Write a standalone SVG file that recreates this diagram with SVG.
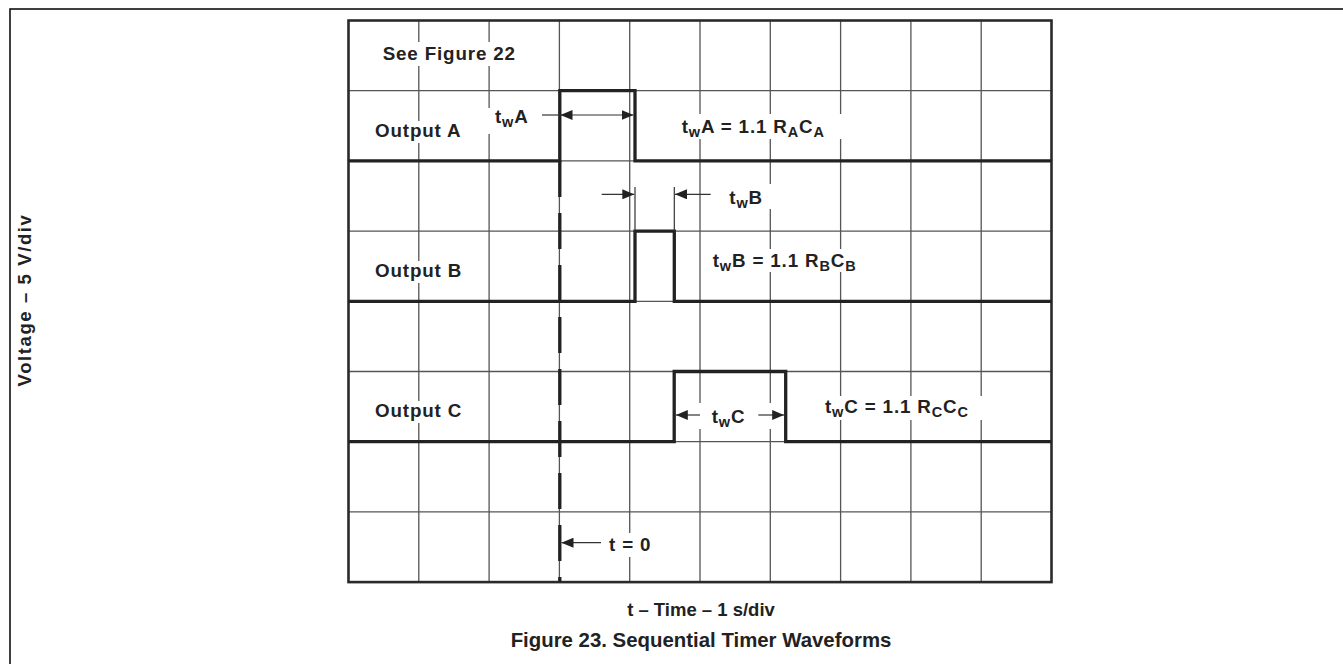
<svg xmlns="http://www.w3.org/2000/svg" width="1343" height="664" viewBox="0 0 1343 664">
<style>
.frame{fill:none;stroke:#000;stroke-width:1.5}
.grid{fill:none;stroke:#555;stroke-width:1.3}
.border{fill:none;stroke:#2a2a2a;stroke-width:2.6}
.wave{fill:none;stroke:#222;stroke-width:3.3;stroke-linejoin:miter}
.dash{fill:none;stroke:#222;stroke-width:3.3;stroke-dasharray:36 16}
.thin{fill:none;stroke:#333;stroke-width:1.2}
.arr{fill:none;stroke:#333;stroke-width:1.2}
.bg{fill:#fff}
text{font-family:"Liberation Sans",Arial,Helvetica,sans-serif;font-weight:bold;fill:#222}
.lbl{font-size:18.8px;letter-spacing:0.85px}
.sub{font-size:14.5px}
.cap{font-size:20.4px}
.ax{font-size:18.5px}
</style>
<defs>
<marker id="ah" viewBox="0 0 12 10" refX="12" refY="5" markerWidth="12" markerHeight="10" markerUnits="userSpaceOnUse" orient="auto-start-reverse">
<path d="M0,0 L12,5 L0,10 Z" fill="#222"/>
</marker>
</defs>
<path class="frame" d="M10,664 V9 H1343"/>
<g id="grid">
<path class="grid" d="M418.8,20.5V582.1M489.1,20.5V582.1M559.4,20.5V582.1M629.7,20.5V582.1M700,20.5V582.1M770.3,20.5V582.1M840.6,20.5V582.1M910.9,20.5V582.1M981.2,20.5V582.1M348.5,90.7H1051.5M348.5,160.9H1051.5M348.5,231.1H1051.5M348.5,301.3H1051.5M348.5,371.5H1051.5M348.5,441.7H1051.5M348.5,511.9H1051.5"/>
<rect class="border" x="348.5" y="20.5" width="703" height="561.6"/>
</g>
<g id="label-bg">
<rect class="bg" x="380" y="42" width="138" height="24"/>
<rect class="bg" x="372" y="121" width="94" height="22"/>
<rect class="bg" x="372" y="261" width="94" height="22"/>
<rect class="bg" x="372" y="401" width="94" height="22"/>
<rect class="bg" x="487" y="108" width="45" height="26"/>
<rect class="bg" x="679" y="114" width="163" height="25"/>
<rect class="bg" x="725" y="184" width="47" height="25"/>
<rect class="bg" x="709" y="249" width="150" height="23"/>
<rect class="bg" x="698" y="403" width="74" height="26"/>
<rect class="bg" x="823" y="396" width="160" height="24"/>
<rect class="bg" x="606" y="533" width="46" height="24"/>
</g>
<g id="output-a">
<path class="wave" d="M348.5,160.9H559.8V90.7H635V160.9H1051.5"/>
<text class="lbl" x="375" y="136.7">Output A</text>
</g>
<g id="output-b">
<path class="wave" d="M348.5,301.3H635V231.1H674.3V301.3H1051.5"/>
<text class="lbl" x="375" y="277">Output B</text>
</g>
<g id="output-c">
<path class="wave" d="M348.5,441.7H674.2V371.5H785.7V441.7H1051.5"/>
<text class="lbl" x="375" y="417.3">Output C</text>
</g>
<g id="t0-line">
<path class="dash" d="M559.8,161V582"/>
</g>
<g id="connectors">
<path class="arr" d="M542,115H560"/>
<path class="arr" d="M560.5,115H633.5" marker-start="url(#ah)" marker-end="url(#ah)"/>
<path class="thin" d="M635,187V231M674.3,187V231"/>
<path class="arr" d="M601.7,194.3H634.3" marker-end="url(#ah)"/>
<path class="arr" d="M710.7,194.3H675" marker-end="url(#ah)"/>
<path class="arr" d="M700,415H675.8" marker-end="url(#ah)"/>
<path class="arr" d="M758.3,415H784.2" marker-end="url(#ah)"/>
<path class="arr" d="M601,542.7H561.5" marker-end="url(#ah)"/>
</g>
<g id="labels">
<text class="lbl" x="382.7" y="60">See Figure 22</text>
<text class="lbl" x="495" y="123.3">t<tspan class="sub" dy="4">w</tspan><tspan dy="-4">A</tspan></text>
<text class="lbl" x="681.7" y="133.3">t<tspan class="sub" dy="4">w</tspan><tspan dy="-4">A = 1.1 R</tspan><tspan class="sub" dy="4">A</tspan><tspan dy="-4">C</tspan><tspan class="sub" dy="4">A</tspan></text>
<text class="lbl" x="729.3" y="204.3">t<tspan class="sub" dy="4">w</tspan><tspan dy="-4">B</tspan></text>
<text class="lbl" x="712.7" y="266.7">t<tspan class="sub" dy="4">w</tspan><tspan dy="-4">B = 1.1 R</tspan><tspan class="sub" dy="4">B</tspan><tspan dy="-4">C</tspan><tspan class="sub" dy="4">B</tspan></text>
<text class="lbl" x="711.7" y="423.3">t<tspan class="sub" dy="4">w</tspan><tspan dy="-4">C</tspan></text>
<text class="lbl" x="825" y="413.3">t<tspan class="sub" dy="4">w</tspan><tspan dy="-4">C = 1.1 R</tspan><tspan class="sub" dy="4">C</tspan><tspan dy="-4">C</tspan><tspan class="sub" dy="4">C</tspan></text>
<text class="lbl" x="609" y="551">t = 0</text>
<text class="ax" x="701" y="616" text-anchor="middle">t – Time – 1 s/div</text>
<text class="ax" transform="translate(31,300) rotate(-90)" x="0" y="0" text-anchor="middle" font-size="19.5" letter-spacing="1.6">Voltage – 5 V/div</text>
<text class="cap" x="701" y="646.5" text-anchor="middle">Figure 23. Sequential Timer Waveforms</text>
</g>
</svg>
